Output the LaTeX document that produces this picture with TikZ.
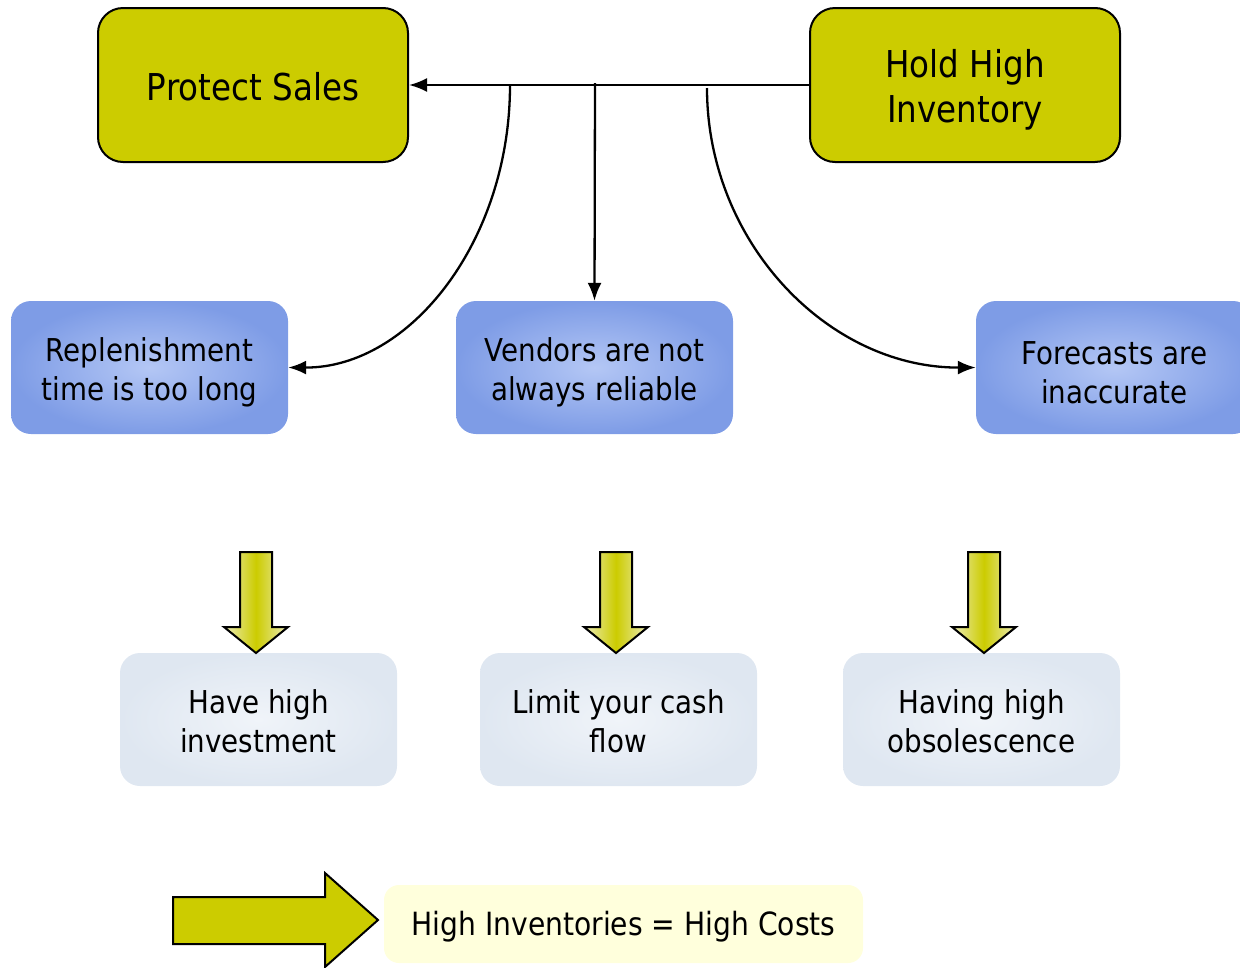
\documentclass[tikz,border=0pt]{standalone}
\usepackage{fontspec}
\setmainfont{DejaVu Sans}[FakeStretch=0.88]
\usetikzlibrary{arrows.meta}
\definecolor{olive}{HTML}{CCCC00}
\definecolor{bluein}{HTML}{B4C7F5}
\definecolor{blueout}{HTML}{7E9CE6}
\definecolor{lightin}{HTML}{F0F4F9}
\definecolor{lightout}{HTML}{DFE7F1}
\definecolor{creamy}{HTML}{FFFFDC}
\definecolor{palearrow}{HTML}{ECECB8}
\tikzset{
  toptext/.style={align=center, inner sep=0pt, font=\fontsize{37}{45}\selectfont, yshift=-5pt},
  onetext/.style={align=center, inner sep=0pt, font=\fontsize{37}{45}\selectfont, yshift=-2pt},
  midtext/.style={align=center, inner sep=0pt, font=\fontsize{31.5}{39}\selectfont, yshift=-5pt},
  lowtext/.style={align=center, inner sep=0pt, font=\fontsize{31.5}{39}\selectfont, yshift=-2pt},
  notetext/.style={inner sep=0pt, font=\fontsize{32}{38}\selectfont, yshift=-3pt},
  topshape/.style={draw=black, line width=2pt, fill=olive, rounded corners=25pt,
    minimum width=310pt, minimum height=154pt, inner sep=0pt},
  topbox/.style={topshape, label={[toptext]center:#1}},
  topone/.style={topshape, label={[onetext]center:#1}},
  causebox/.style={shading=radial, inner color=bluein, outer color=blueout,
    rounded corners=20pt, minimum width=277pt, minimum height=133pt, inner sep=0pt,
    label={[midtext]center:#1}},
  effectbox/.style={shading=radial, inner color=lightin, outer color=lightout,
    rounded corners=20pt, minimum width=277pt, minimum height=133pt, inner sep=0pt,
    label={[lowtext]center:#1}},
  notebox/.style={fill=creamy, rounded corners=15pt, minimum width=479pt,
    minimum height=78pt, inner sep=0pt, label={[notetext]center:#1}},
  link/.style={line width=2.3pt, -{Latex[length=18pt,width=14pt]}},
  downarrow/.style={draw=black, line width=2pt, left color=palearrow,
    right color=palearrow, middle color=olive},
}
\begin{document}
\begin{tikzpicture}[x=1pt, y=-1pt]
\useasboundingbox (0,0) rectangle (1240,967);
% top boxes
\node[topone={Protect Sales}] (sales) at (253,85) {};
\node[topbox={Hold High\\Inventory}] (hold) at (965,85) {};
% cause boxes
\node[causebox={Replenishment\\time is too long}] (rep) at (149.5,367.5) {};
\node[causebox={Vendors are not\\always reliable}] (vend) at (594.5,367.5) {};
\node[causebox={Forecasts are\\inaccurate}] (fore) at (1114.5,367.5) {};
% effect boxes
\node[effectbox={Have high\\investment}] (inv) at (258.5,719.5) {};
\node[effectbox={Limit your cash\\flow}] (cash) at (618.5,719.5) {};
\node[effectbox={Having high\\obsolescence}] (obs) at (981.5,719.5) {};
% note box
\node[notebox={High Inventories = High Costs}] (note) at (623.5,924) {};
% connectors
\draw[link] (hold.west) -- (sales.east);
\coordinate (cl) at (510,85);
\coordinate (cm) at (595,83);
\coordinate (cr) at (707,88);
\draw[link] (cl) .. controls (510,241) and (410,368) .. (rep.east);
\draw[link] (cm) -- (vend.north);
\draw[link] (cr) .. controls (707,242) and (828,368) .. (fore.west);
% down arrows
\foreach \cx in {256,616,984}{
  \shadedraw[downarrow] (\cx-16,552) -- (\cx+16,552) -- (\cx+16,627) -- (\cx+32,627)
    -- (\cx,653) -- (\cx-32,627) -- (\cx-16,627) -- cycle;
}
% big right arrow
\draw[line width=2pt, fill=olive] (173,897) -- (325,897) -- (325,873) -- (378,920)
  -- (325,967) -- (325,944) -- (173,944) -- cycle;
\end{tikzpicture}
\end{document}
